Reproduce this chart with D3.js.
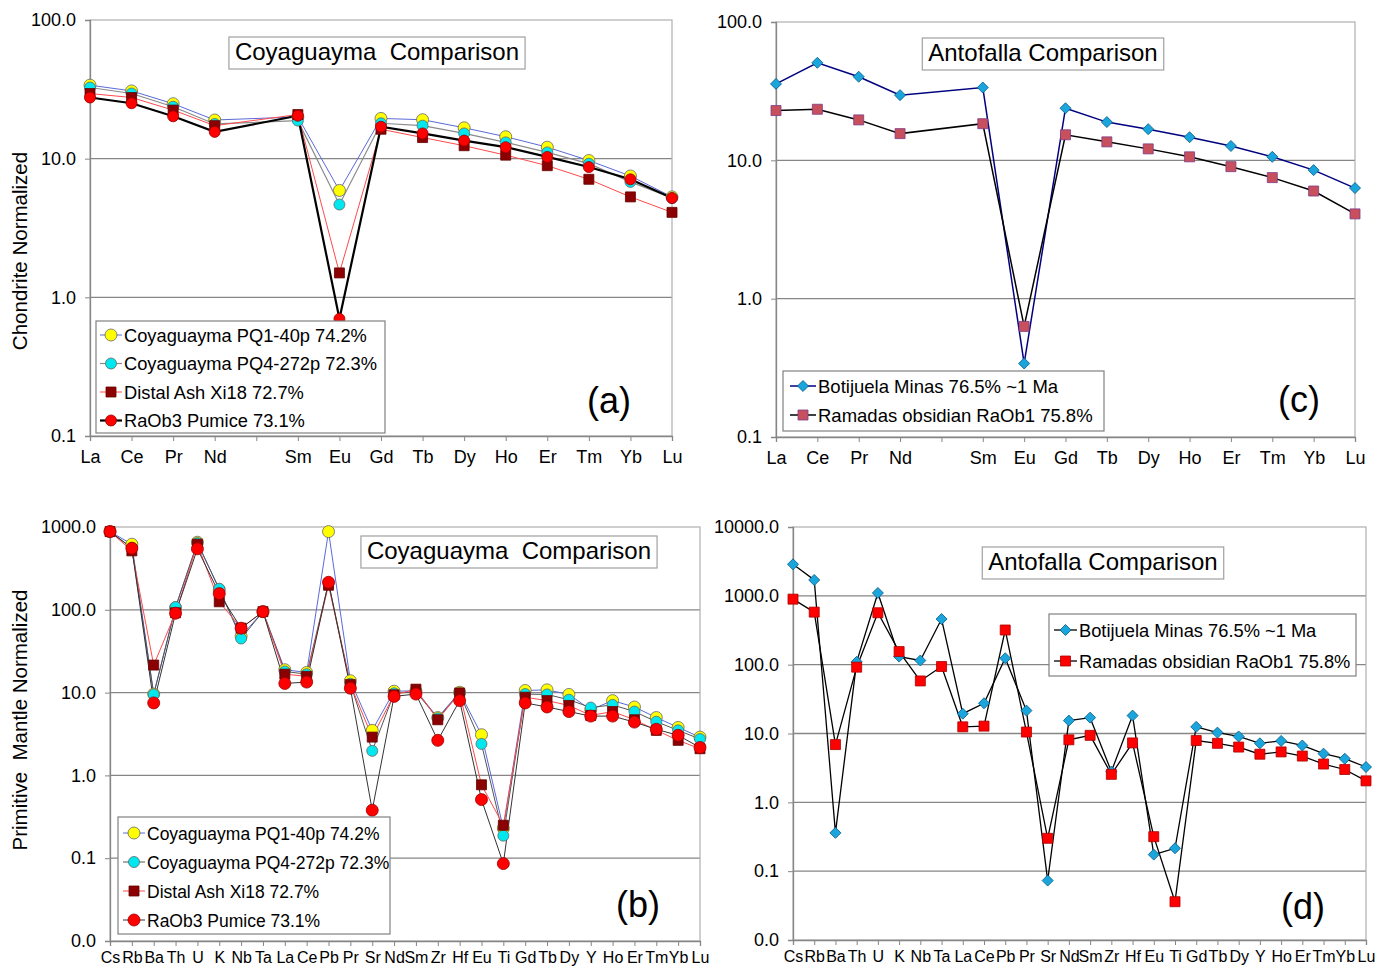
<!DOCTYPE html>
<html>
<head>
<meta charset="utf-8">
<script src="https://cdn.jsdelivr.net/npm/d3@7"></script>
<style>
body{margin:0;background:#fff;}
text{font-family:"Liberation Sans",Arial,sans-serif;}
</style>
</head>
<body>
<svg id="chart" width="1386" height="969"></svg>
<script>
// categories
var reeCats=["La","Ce","Pr","Nd","","Sm","Eu","Gd","Tb","Dy","Ho","Er","Tm","Yb","Lu"];
var spiderCats=["Cs","Rb","Ba","Th","U","K","Nb","Ta","La","Ce","Pb","Pr","Sr","Nd","Sm","Zr","Hf","Eu","Ti","Gd","Tb","Dy","Y","Ho","Er","Tm","Yb","Lu"];

// (a) chondrite normalized, Coyaguayma
var reePQ1=[33.9,30.8,24.9,19.0,null,20.0,5.9,19.5,19.1,16.7,14.4,12.1,9.7,7.5,5.3];
var reePQ4=[32.6,29.5,23.7,17.8,null,18.8,4.67,18.0,17.3,15.2,13.1,11.1,9.2,6.8,5.2];
var reeXi18=[29.5,27.6,22.4,17.3,null,20.8,1.50,16.3,14.2,12.4,10.6,8.9,7.1,5.3,4.1];
var reeRaOb3=[27.6,25.1,20.2,15.6,null,20.4,0.70,17.0,15.2,13.5,12.1,10.3,8.7,7.1,5.2];

// (c) chondrite normalized, Antofalla
var reeBotij=[35.7,50.7,40.2,29.6,null,33.6,0.34,23.8,18.9,16.8,14.7,12.7,10.6,8.5,6.3];
var reeRaOb1=[22.9,23.4,19.6,15.6,null,18.4,0.63,15.3,13.6,12.1,10.6,9.0,7.5,6.0,4.1];

// (b) primitive mantle normalized, Coyaguayma
var pmPQ1=[880,620,9.6,106,655,175,48,95,18.9,17.5,880,13.9,3.5,10.4,10.5,5.0,10.1,3.1,0.23,10.6,10.8,9.5,6.2,8.0,6.7,5.0,3.8,2.9];
var pmPQ4=[880,560,9.5,108,640,180,45,95,18.0,16.7,210,12.8,1.98,9.8,10.2,4.9,9.8,2.4,0.187,9.6,9.5,8.2,6.6,7.1,5.9,4.45,3.5,2.75];
var pmXi18=[880,515,21.5,92,620,125,60,95,16.7,15.7,198,12.5,2.9,9.4,11.0,4.7,9.9,0.77,0.25,8.8,8.0,7.0,5.3,5.9,4.7,3.5,2.65,2.1];
var pmRaOb3=[880,555,7.5,91,545,157,60,95,12.9,13.4,215,11.3,0.38,9.0,9.6,2.65,8.0,0.51,0.086,7.5,6.7,5.9,5.2,5.2,4.4,3.6,3.05,2.17];

// (d) primitive mantle normalized, Antofalla
var pmBotij=[2870,1700,0.36,110,1100,131,115,460,19.4,27.5,124,21.5,0.073,15.4,17.0,2.8,18.2,0.174,0.215,12.5,10.3,9.05,7.2,7.8,6.7,5.1,4.3,3.26];
var pmRaOb1=[895,580,6.9,92,568,155,58,94,12.5,12.8,319,10.5,0.30,8.1,9.4,2.55,7.3,0.317,0.036,7.9,7.2,6.35,5.0,5.4,4.7,3.6,3.0,2.05];

var coyNames=["Coyaguayma PQ1-40p 74.2%","Coyaguayma PQ4-272p 72.3%","Distal Ash Xi18 72.7%","RaOb3 Pumice 73.1%"];
var antNames=["Botijuela Minas 76.5% ~1 Ma","Ramadas obsidian RaOb1 75.8%"];

var svg=d3.select("#chart");
var grey="#868686";

function marker(g,shape,size,fill,stroke){
	var sym,area,rot="";
	if(shape==="circle"){sym=d3.symbolCircle;area=Math.PI*size*size/4;}
	else if(shape==="square"){sym=d3.symbolSquare;area=size*size;}
	else {sym=d3.symbolSquare;area=size*size/2;rot=" rotate(45)";}   // diamond = square turned 45deg
	var m=g.append("path")
		.attr("d",d3.symbol().type(sym).size(area)())
		.attr("fill",fill)
		.attr("stroke",stroke)
		.attr("stroke-width",0.8);
	m.rot=rot;
	return m;
}
function place(m,px,py){
	m.attr("transform","translate("+px+","+py+")"+m.rot);
}

function drawPanel(p){
	var g=svg.append("g");
	var x=d3.scalePoint().domain(d3.range(p.cats.length)).range([p.left,p.right]);
	var y=d3.scaleLog().domain(p.domain).range([p.bottom,p.top]);

	// gridlines
	g.selectAll("line.grid").data(p.ticks.slice(1,-1)).enter().append("line")
		.attr("x1",p.left).attr("x2",p.right)
		.attr("y1",function(d){return y(d);}).attr("y2",function(d){return y(d);})
		.attr("stroke",grey).attr("stroke-width",1.3);
	// plot border
	g.append("rect").attr("x",p.left).attr("y",p.top)
		.attr("width",p.right-p.left).attr("height",p.bottom-p.top)
		.attr("fill","none").attr("stroke","#b0b0b0").attr("stroke-width",1.2);

	// y axis
	var ya=g.append("g").attr("transform","translate("+p.left+",0)")
		.call(d3.axisLeft(y).tickValues(p.ticks).tickFormat(d3.format(".1f")).tickSize(5).tickPadding(9));
	ya.select(".domain").attr("stroke",grey).attr("stroke-width",1.3);
	ya.selectAll(".tick line").attr("stroke",grey);
	ya.selectAll("text").attr("font-size",18).attr("fill","#000").attr("font-family","Liberation Sans, Arial, sans-serif");

	// x axis
	var xa=g.append("g").attr("transform","translate(0,"+p.bottom+")")
		.call(d3.axisBottom(x).tickFormat(function(i){return p.cats[i];}).tickSize(5).tickPadding(p.xPad));
	xa.select(".domain").attr("stroke",grey).attr("stroke-width",1.3);
	xa.selectAll(".tick line").attr("stroke",grey);
	xa.selectAll("text").attr("font-size",p.xFont).attr("fill","#000").attr("font-family","Liberation Sans, Arial, sans-serif");

	// series lines then markers
	p.series.forEach(function(s){
		var pts=s.values.map(function(v,i){return {i:i,v:v};}).filter(function(d){return d.v!==null;});
		g.append("path").datum(pts)
			.attr("fill","none").attr("stroke",s.line).attr("stroke-width",s.width)
			.attr("d",d3.line().x(function(d){return x(d.i);}).y(function(d){return y(d.v);}));
	});
	p.series.forEach(function(s){
		var pts=s.values.map(function(v,i){return {i:i,v:v};}).filter(function(d){return d.v!==null;});
		pts.forEach(function(d){
			place(marker(g,s.shape,s.size,s.fill,s.stroke),x(d.i),y(d.v));
		});
	});

	// title box
	var tbox=g.append("rect").attr("fill","#fff").attr("stroke","#a0a0a0").attr("stroke-width",1.2);
	var tt=g.append("text").attr("x",p.titleX).attr("y",p.titleY)
		.attr("text-anchor","middle").attr("font-size",24).style("white-space","pre").text(p.title);
	var bb=tt.node().getBBox();
	tbox.attr("x",bb.x-6).attr("y",p.titleY-23).attr("width",bb.width+12).attr("height",32);

	// legend
	var L=p.legend;
	var lg=g.append("g");
	lg.append("rect").attr("x",L.x).attr("y",L.y)
		.attr("width",L.w).attr("height",L.h)
		.attr("fill","#fff").attr("stroke","#808080").attr("stroke-width",1.2);
	p.series.forEach(function(s,k){
		var cy=L.y+L.first+k*L.step;
		var lx=L.x+L.pad;
		lg.append("line").attr("x1",lx).attr("x2",lx+L.lineW).attr("y1",cy).attr("y2",cy)
			.attr("stroke",s.line).attr("stroke-width",s.width);
		place(marker(lg,s.shape,s.size,s.fill,s.stroke),lx+L.lineW/2,cy);
		lg.append("text").attr("x",lx+L.lineW+2).attr("y",cy+6.5).attr("font-size",L.font).text(s.name);
	});

	// panel letter
	g.append("text").attr("x",p.letterX).attr("y",p.letterY).attr("text-anchor","middle")
		.attr("font-size",36).text(p.letter);
}

drawPanel({
	cats:reeCats,left:90,right:672,top:20,bottom:436,domain:[0.1,100],ticks:[0.1,1,10,100],xFont:18,xPad:9,
	title:"Coyaguayma  Comparison",titleX:377,titleY:60,letter:"(a)",letterX:609,letterY:413,
	legend:{x:96,y:321,w:289,h:112,first:14,step:28.5,font:18.3,pad:4,lineW:22},
	series:[
		{name:coyNames[0],values:reePQ1,line:"#5a6ad8",width:1,shape:"circle",size:12,fill:"#ffff00",stroke:"#666"},
		{name:coyNames[1],values:reePQ4,line:"#8a8a8a",width:1.2,shape:"circle",size:11,fill:"#00e8ef",stroke:"#666"},
		{name:coyNames[2],values:reeXi18,line:"#ff4a4a",width:1,shape:"square",size:10,fill:"#8b0000",stroke:"#600"},
		{name:coyNames[3],values:reeRaOb3,line:"#000",width:2.2,shape:"circle",size:11,fill:"#ff0000",stroke:"#900"}
	]
});

drawPanel({
	cats:reeCats,left:776,right:1355,top:22,bottom:437,domain:[0.1,100],ticks:[0.1,1,10,100],xFont:18,xPad:9,
	title:"Antofalla Comparison",titleX:1043,titleY:61,letter:"(c)",letterX:1299,letterY:412,
	legend:{x:783,y:371,w:321,h:60,first:15,step:29,font:18.5,pad:7,lineW:26},
	series:[
		{name:antNames[0],values:reeBotij,line:"#000080",width:1.5,shape:"diamond",size:11,fill:"#1aa6dc",stroke:"#0a5f8a"},
		{name:antNames[1],values:reeRaOb1,line:"#000",width:1.5,shape:"square",size:10,fill:"#c8505c",stroke:"#7b3a8a"}
	]
});

drawPanel({
	cats:spiderCats,left:110,right:700,top:527,bottom:941,domain:[0.01,1000],ticks:[0.01,0.1,1,10,100,1000],xFont:16,xPad:6,
	title:"Coyaguayma  Comparison",titleX:509,titleY:559,letter:"(b)",letterX:638,letterY:917,
	legend:{x:118,y:817,w:272,h:117,first:16,step:29,font:17.5,pad:5,lineW:22},
	series:[
		{name:coyNames[0],values:pmPQ1,line:"#5a6ad8",width:1,shape:"circle",size:12,fill:"#ffff00",stroke:"#666"},
		{name:coyNames[1],values:pmPQ4,line:"#555",width:1,shape:"circle",size:11,fill:"#00e8ef",stroke:"#666"},
		{name:coyNames[2],values:pmXi18,line:"#ff4a4a",width:1,shape:"square",size:10,fill:"#8b0000",stroke:"#600"},
		{name:coyNames[3],values:pmRaOb3,line:"#333",width:1,shape:"circle",size:12,fill:"#ff0000",stroke:"#900"}
	]
});

drawPanel({
	cats:spiderCats,left:793,right:1366,top:527,bottom:940,domain:[0.01,10000],ticks:[0.01,0.1,1,10,100,1000,10000],xFont:16,xPad:6,
	title:"Antofalla Comparison",titleX:1103,titleY:570,letter:"(d)",letterX:1303,letterY:919,
	legend:{x:1049,y:614,w:307,h:62,first:16,step:31,font:18.3,pad:5,lineW:23},
	series:[
		{name:antNames[0],values:pmBotij,line:"#000",width:1.3,shape:"diamond",size:11,fill:"#1aa6dc",stroke:"#0a5f8a"},
		{name:antNames[1],values:pmRaOb1,line:"#000",width:1.3,shape:"square",size:10,fill:"#ff0000",stroke:"#a00"}
	]
});

// y axis titles
svg.append("text").attr("transform","translate(27,251) rotate(-90)").attr("text-anchor","middle")
	.attr("font-size",20.5).text("Chondrite Normalized");
svg.append("text").attr("transform","translate(27,720) rotate(-90)").attr("text-anchor","middle")
	.style("white-space","pre").attr("font-size",20.5).text("Primitive  Mantle Normalized");
</script>
</body>
</html>
